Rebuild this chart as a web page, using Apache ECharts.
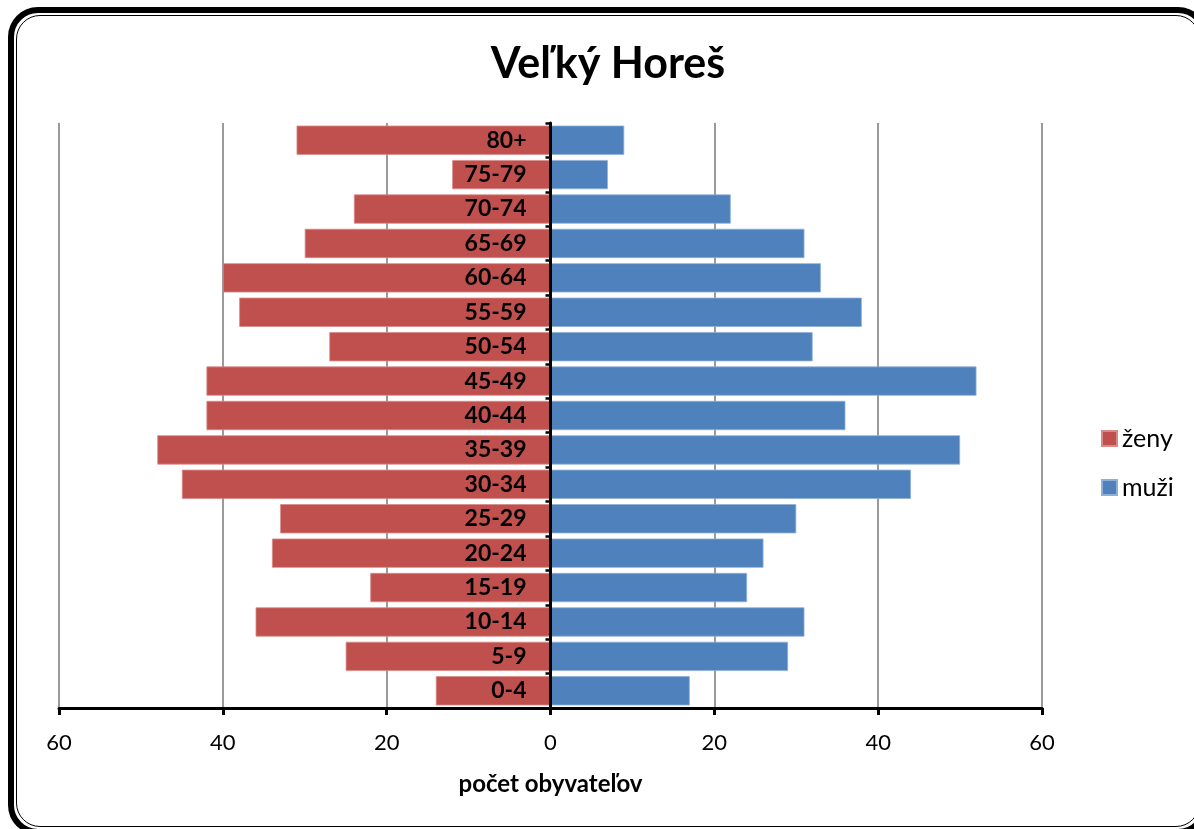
<!DOCTYPE html>
<html>
<head>
<meta charset="utf-8">
<script src="https://cdn.jsdelivr.net/npm/echarts@6/dist/echarts.min.js"></script>
<style>
  html, body { margin: 0; padding: 0; background: #fff; overflow: hidden; }
  #frame { position: absolute; left: 8px; top: 7px; width: 1200px; height: 828px;
           box-sizing: border-box; border: 6px solid #000; border-radius: 30px; }
  #inner { position: absolute; left: 2px; top: 2px; right: 2px; bottom: 2px;
           border: 1.5px solid #000; border-radius: 24px; }
  #chart { position: absolute; left: 0; top: 0; width: 1194px; height: 829px; }
</style>
</head>
<body>
<div id="frame"><div id="inner"></div></div>
<div id="chart"></div>
<script>
const categories = ['0-4','5-9','10-14','15-19','20-24','25-29','30-34','35-39','40-44','45-49','50-54','55-59','60-64','65-69','70-74','75-79','80+'];
const zeny = [14, 25, 36, 22, 34, 33, 45, 48, 42, 42, 27, 38, 40, 30, 24, 12, 31];
const muzi = [17, 29, 31, 24, 26, 30, 44, 50, 36, 52, 32, 38, 33, 31, 22, 7, 9];
const xTicks = { min: -60, max: 60, interval: 20 };

const FONT = 'Lato, "Open Sans", sans-serif';
const chart = echarts.init(document.getElementById('chart'), null, { renderer: 'canvas' });
chart.setOption({
  backgroundColor: 'transparent',
  animation: false,
  textStyle: { fontFamily: FONT },
  title: {
    text: 'Veľký Horeš', left: 603, top: 38, textAlign: 'center',
    textStyle: { fontFamily: FONT, fontWeight: 'bold', fontSize: 43, color: '#000' }
  },
  legend: {
    orient: 'vertical', left: 1101, top: 426, padding: 0, itemWidth: 15, itemHeight: 15, itemGap: 24,
    icon: 'rect', data: ['ženy', 'muži'],
    textStyle: { fontFamily: FONT, fontSize: 25, color: '#000' }
  },
  grid: { left: 59, right: 152, top: 123, bottom: 121, containLabel: false, outerBoundsMode: 'none' },
  xAxis: {
    type: 'value', min: xTicks.min, max: xTicks.max, interval: xTicks.interval,
    name: 'počet obyvateľov', nameLocation: 'middle', nameGap: 64,
    nameTextStyle: { fontFamily: FONT, fontWeight: 'bold', fontSize: 24, color: '#000' },
    axisLine: { show: true, onZero: false, lineStyle: { color: '#000', width: 3 } },
    axisTick: { show: true, length: 7, lineStyle: { color: '#000', width: 3 } },
    axisLabel: { fontFamily: FONT, fontSize: 22, color: '#000', margin: 24,
                 formatter: v => String(Math.abs(v)) },
    splitLine: { show: true, lineStyle: { color: '#8f8f8f', width: 1.8 } }
  },
  yAxis: {
    type: 'category', data: categories, z: 10,
    axisLine: { show: true, onZero: true, lineStyle: { color: '#000', width: 3 } },
    axisTick: { show: true, length: 5, lineStyle: { color: '#000', width: 2.5 } },
    axisLabel: { show: false },
    splitLine: { show: false }
  },
  series: [
    {
      name: 'ženy', type: 'bar', stack: 'p', barCategoryGap: '15%',
      data: zeny.map(v => -v),
      itemStyle: { color: '#C0504D', borderColor: '#d88a88', borderWidth: 0.8 },
      label: {
        show: true, position: 'insideRight', distance: 24,
        formatter: p => categories[p.dataIndex],
        fontFamily: FONT, fontWeight: 'bold', fontSize: 23, color: '#000'
      }
    },
    {
      name: 'muži', type: 'bar', stack: 'p', barCategoryGap: '15%',
      data: muzi,
      itemStyle: { color: '#4F81BD', borderColor: '#8eb0d8', borderWidth: 0.8 }
    }
  ]
});
</script>
</body>
</html>
